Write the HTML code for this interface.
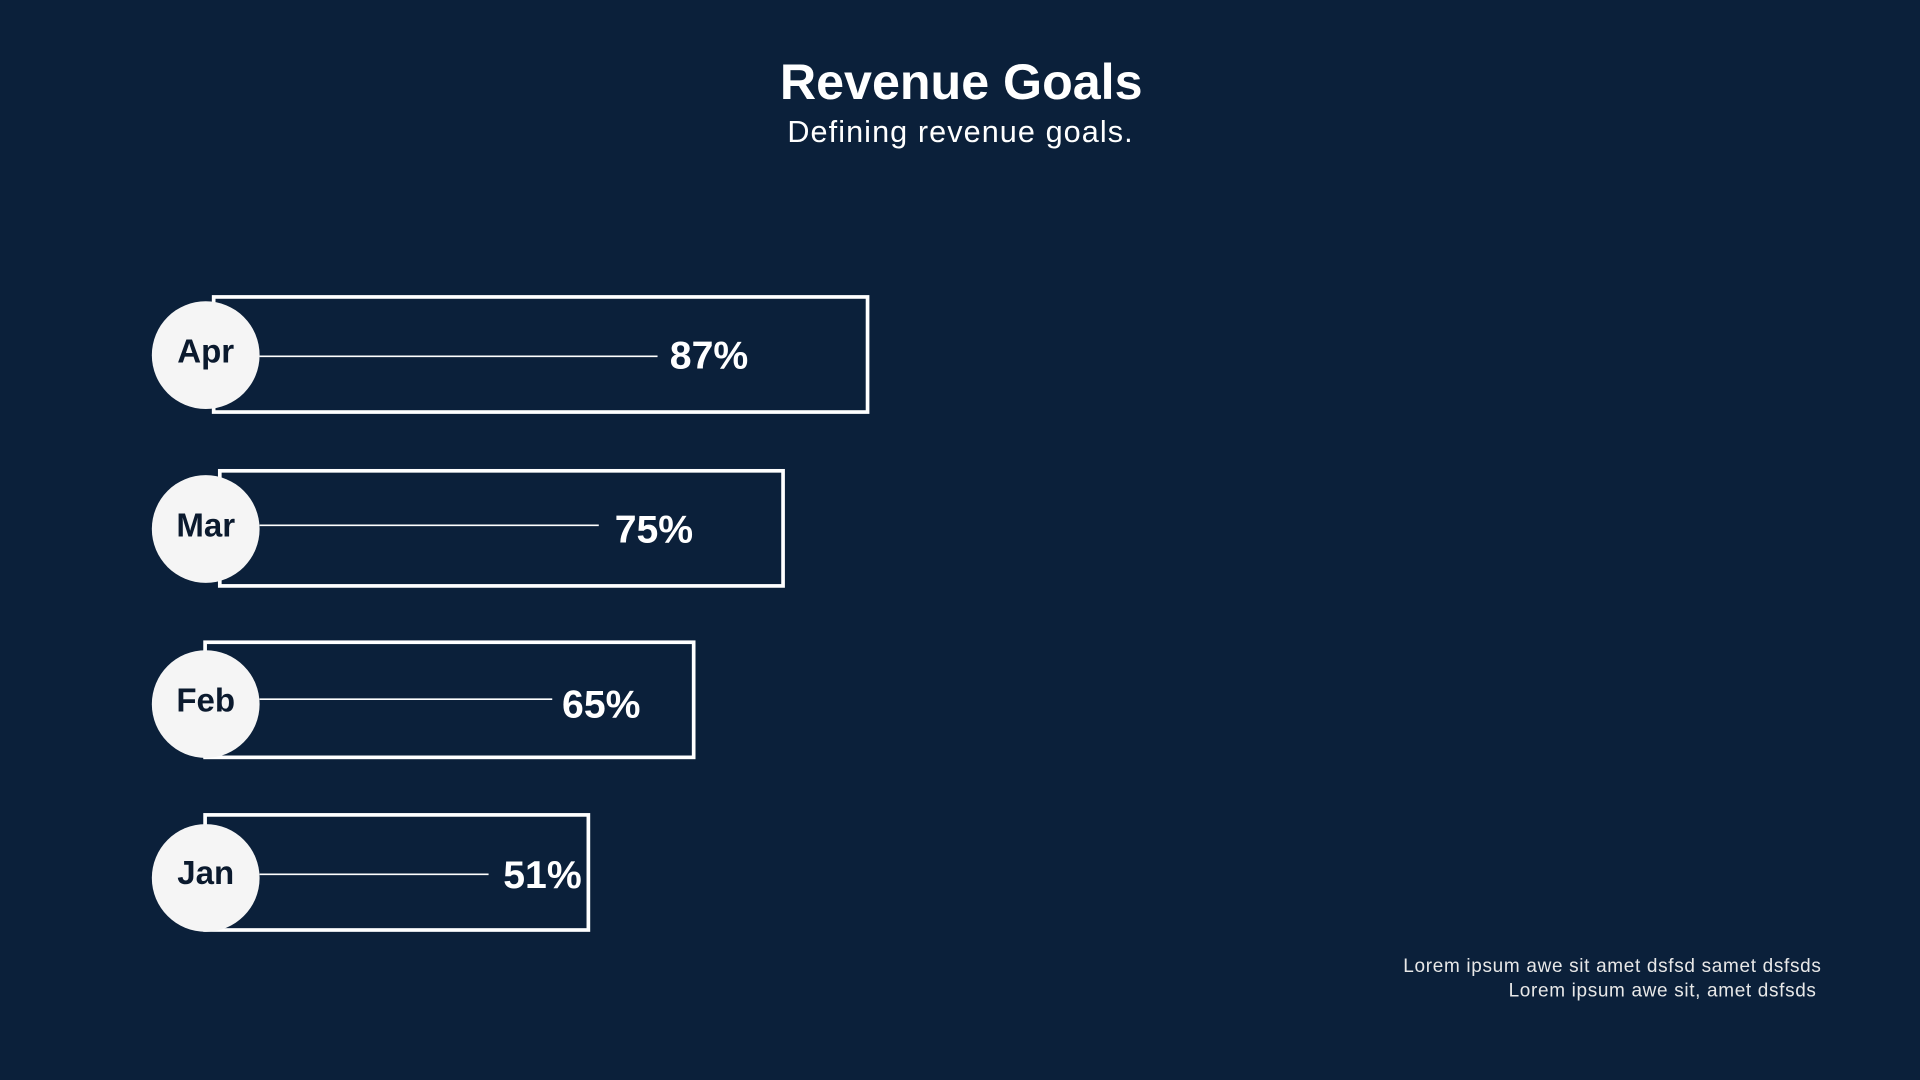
<!DOCTYPE html>
<html><head><meta charset="utf-8"><style>
html,body{margin:0;padding:0;background:#0b203a;}
svg{display:block;}
text{font-family:"Liberation Sans",sans-serif;}
</style></head><body>
<svg width="1920" height="1080" viewBox="0 0 1568 882" xmlns="http://www.w3.org/2000/svg">
<rect width="1568" height="882" fill="#0b203a"/>
<text x="785" y="81" text-anchor="middle" fill="#fff" font-size="41" font-weight="bold">Revenue Goals</text>
<text x="784" y="116" text-anchor="middle" fill="#fff" font-size="25" textLength="282">Defining revenue goals.</text>
<g stroke="#fff" stroke-width="3" fill="none">
<rect x="174.5" y="242.5" width="534" height="94"/>
<rect x="179.5" y="384.5" width="460" height="94"/>
<rect x="167.5" y="524.5" width="399" height="94"/>
<rect x="167.5" y="665.5" width="313" height="94"/>
</g>
<g stroke="#fff" stroke-width="1.3">
<line x1="212" y1="291" x2="537" y2="291"/>
<line x1="212" y1="429" x2="489" y2="429"/>
<line x1="212" y1="571" x2="451" y2="571"/>
<line x1="212" y1="714" x2="399" y2="714"/>
</g>
<g fill="#f5f5f5">
<circle cx="168" cy="290" r="44"/>
<circle cx="168" cy="432" r="44"/>
<circle cx="168" cy="575" r="44"/>
<circle cx="168" cy="717" r="44"/>
</g>
<g fill="#0b1a2e" font-size="27" font-weight="bold" text-anchor="middle">
<text x="168" y="296">Apr</text>
<text x="168" y="438">Mar</text>
<text x="168" y="581">Feb</text>
<text x="168" y="722">Jan</text>
</g>
<g fill="#fff" font-size="32" font-weight="bold">
<text x="547" y="301">87%</text>
<text x="502" y="443">75%</text>
<text x="459" y="586">65%</text>
<text x="411" y="725">51%</text>
</g>
<g fill="#e8e8e8" font-size="15.5" text-anchor="end">
<text x="1487" y="794" textLength="341">Lorem ipsum awe sit amet dsfsd samet dsfsds</text>
<text x="1483" y="814" textLength="251">Lorem ipsum awe sit, amet dsfsds</text>
</g>
</svg>
</body></html>
